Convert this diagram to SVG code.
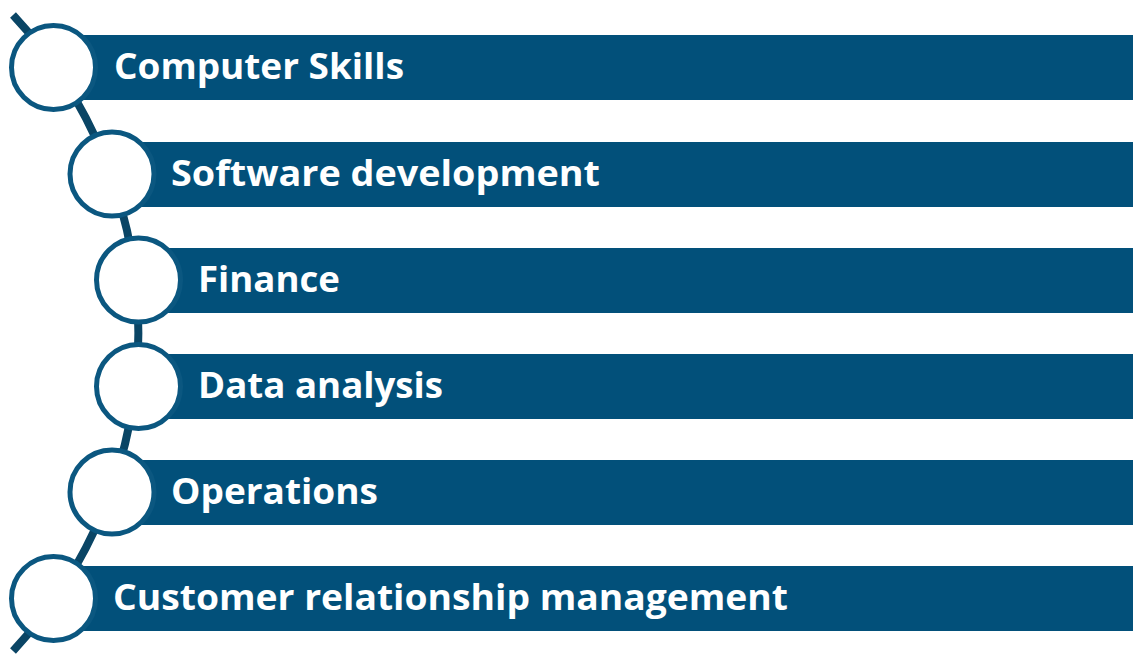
<svg xmlns="http://www.w3.org/2000/svg" width="1133" height="654" viewBox="0 0 1133 654">
<style>
.bar{fill:#02507A}
.dot{fill:#FFFFFF;stroke:#0B5780;stroke-width:5}
.lbl{font-family:"Open Sans","Liberation Sans",sans-serif;font-weight:bold;font-size:35px;fill:#FFFFFF}
.conn{fill:none;stroke:#0A4565;stroke-width:8}
</style>
<rect width="1133" height="654" fill="#FFFFFF"/>
<g id="connectors">
<path class="conn" d="M 13 15 A 466 466 0 0 1 13 651"/>
</g>
<g id="node1">
<rect class="bar" x="53" y="35" width="1080" height="65"/>
<circle class="dot" cx="53.5" cy="67.5" r="42"/>
<text class="lbl" x="114" y="79" textLength="290" lengthAdjust="spacingAndGlyphs">Computer Skills</text>
</g>
<g id="node2">
<rect class="bar" x="112" y="142" width="1021" height="65"/>
<circle class="dot" cx="112" cy="174" r="42"/>
<text class="lbl" x="171" y="186" textLength="429" lengthAdjust="spacingAndGlyphs">Software development</text>
</g>
<g id="node3">
<rect class="bar" x="138" y="248" width="995" height="65"/>
<circle class="dot" cx="138.5" cy="280" r="42"/>
<text class="lbl" x="198" y="292" textLength="142" lengthAdjust="spacingAndGlyphs">Finance</text>
</g>
<g id="node4">
<rect class="bar" x="138" y="354" width="995" height="65"/>
<circle class="dot" cx="138.5" cy="386.5" r="42"/>
<text class="lbl" x="198" y="398" textLength="245" lengthAdjust="spacingAndGlyphs">Data analysis</text>
</g>
<g id="node5">
<rect class="bar" x="112" y="460" width="1021" height="65"/>
<circle class="dot" cx="112" cy="492" r="42"/>
<text class="lbl" x="171" y="504" textLength="207" lengthAdjust="spacingAndGlyphs">Operations</text>
</g>
<g id="node6">
<rect class="bar" x="53" y="566" width="1080" height="65"/>
<circle class="dot" cx="53.5" cy="598.5" r="42"/>
<text class="lbl" x="113" y="610" textLength="675" lengthAdjust="spacingAndGlyphs">Customer relationship management</text>
</g>
</svg>
